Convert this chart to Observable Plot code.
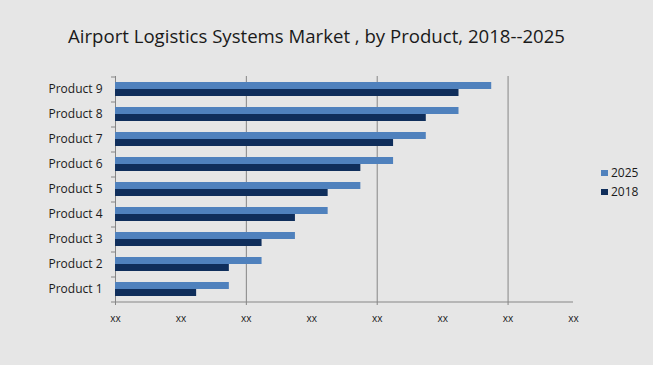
<!DOCTYPE html>
<html><head><meta charset="utf-8">
<script src="https://cdn.jsdelivr.net/npm/d3@7"></script>
<script src="https://cdn.jsdelivr.net/npm/@observablehq/plot@0.6"></script>
<style>
html,body{margin:0;padding:0;background:#e6e6e6;}
#wrap{position:relative;width:653px;height:365px;background:#e6e6e6;font-family:"Open Sans",sans-serif;overflow:hidden;}
#title{position:absolute;left:0;width:633px;top:23px;text-align:center;font-size:18.6px;color:#1a1a1a;white-space:nowrap;}
#chart{position:absolute;left:0;top:0;}
.lg{position:absolute;left:601px;font-size:12px;color:#1a1a1a;line-height:14px;white-space:nowrap;}
.sw{display:inline-block;width:7px;height:6px;margin-right:3px;vertical-align:1px;}
</style></head>
<body>
<div id="wrap">
  <div id="chart"></div>
  <div id="title"></div>
  <div id="legend"></div>
</div>
<script>
const title = "Airport Logistics Systems Market , by Product, 2018--2025";
const products = ["Product 1","Product 2","Product 3","Product 4","Product 5","Product 6","Product 7","Product 8","Product 9"];
const series = ["2025","2018"];
const values2018 = [12.4, 17.4, 22.4, 27.5, 32.5, 37.5, 42.5, 47.5, 52.5];
const values2025 = [17.4, 22.4, 27.5, 32.5, 37.5, 42.5, 47.5, 52.5, 57.5];
const xTicks = [0, 10, 20, 30, 40, 50, 60, 70];
const xTickLabel = "xx";
const gridValues = [0, 20, 40, 60];
const colors = {"2025": "#4f81bd", "2018": "#0f2e5b"};

const rows = products.map((p, i) => ({product: p, v2018: values2018[i], v2025: values2025[i]}));

document.getElementById("title").textContent = title;

const lineColor = "#868686";
const plot = Plot.plot({
  width: 653,
  height: 365,
  marginLeft: 115,
  marginRight: 80,
  marginTop: 76,
  marginBottom: 64,
  style: {background: "transparent", fontFamily: "'Open Sans', sans-serif", color: "#1a1a1a"},
  x: {domain: [0, 70], ticks: xTicks, tickFormat: () => xTickLabel, tickSize: 0, tickPadding: 13, label: null},
  y: {domain: products.slice().reverse(), paddingInner: 0.44, paddingOuter: 0.22, tickSize: 0, tickPadding: 13, label: null},
  marks: [
    Plot.ruleX(gridValues, {stroke: lineColor, insetBottom: -4}),
    Plot.ruleY(products, {y: d => d, x1: 0, x2: 0, insetLeft: -4, dy: -12.5, stroke: lineColor}),
    Plot.ruleY([products[0]], {y: d => d, dy: 12.5, insetLeft: -4, stroke: lineColor}),
    Plot.barX(rows, {y: "product", x: "v2025", fill: colors["2025"], insetBottom: 7}),
    Plot.barX(rows, {y: "product", x: "v2018", fill: colors["2018"], insetTop: 7})
  ]
});
d3.select(plot).selectAll("[aria-label='y-axis'] text, [aria-label='y-axis tick label'] text").style("font-size", "12px");
d3.select(plot).selectAll("[aria-label='x-axis'] text, [aria-label='x-axis tick label'] text").style("font-size", "10px");
document.getElementById("chart").appendChild(plot);

const legend = document.getElementById("legend");
series.forEach((s, i) => {
  const d = document.createElement("div");
  d.className = "lg";
  d.style.top = (166 + i * 19) + "px";
  d.innerHTML = `<span class="sw" style="background:${colors[s]}"></span>${s}`;
  legend.appendChild(d);
});
</script>
</body></html>
